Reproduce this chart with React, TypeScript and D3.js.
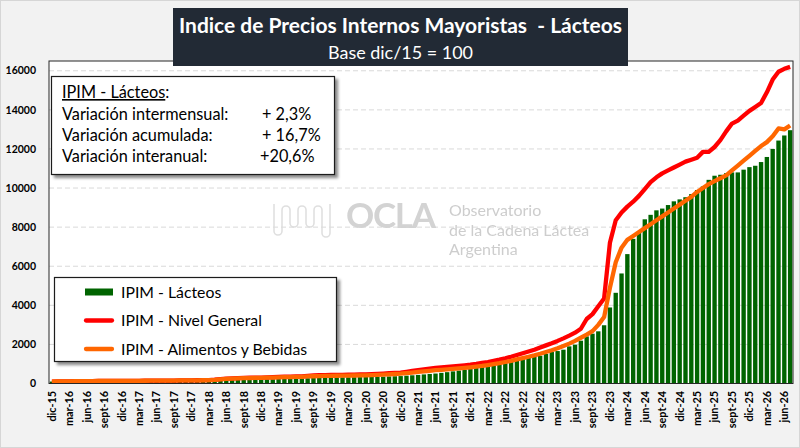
import React, { useEffect, useRef } from 'react';
import * as d3 from 'd3';

// month abbreviations used on the category axis
const MONTHS = ['ene', 'feb', 'mar', 'abr', 'may', 'jun', 'jul', 'ago', 'sept', 'oct', 'nov', 'dic'];

// dic-15 .. jul-26
const categories: string[] = ['dic-15'];
for (let y = 16; y <= 26; y++) {
  MONTHS.forEach((m, k) => {
    if (y === 26 && k > 6) return;
    categories.push(`${m}-${y}`);
  });
}

// IPIM - Lácteos (bars)
const lacteos = [
  100,
  102, 104, 107, 110, 113, 116, 118, 119, 120, 121, 122, 123, // 2016
  124, 126, 128, 130, 132, 134, 136, 138, 140, 142, 144, 146, // 2017
  148, 151, 154, 158, 164, 170, 176, 183, 190, 197, 203, 208, // 2018
  213, 220, 227, 235, 242, 248, 253, 270, 280, 290, 298, 305, // 2019
  310, 315, 318, 322, 326, 330, 336, 342, 350, 360, 370, 380, // 2020
  400, 420, 440, 465, 490, 510, 545, 580, 620, 660, 700, 740, // 2021
  790, 840, 890, 940, 990, 1040, 1100, 1190, 1250, 1310, 1360, 1420, // 2022
  1510, 1610, 1660, 1730, 1900, 1990, 2190, 2410, 2550, 2670, 2980, 3890, // 2023
  4640, 5630, 6620, 7400, 7750, 8400, 8630, 8860, 8950, 9130, 9320, 9420, // 2024
  9530, 9690, 9900, 10080, 10420, 10630, 10680, 10760, 10800, 10800, 10940, 11070, // 2025
  11140, 11330, 11590, 12000, 12430, 12690, 12960, // 2026
];

// IPIM - Nivel General (red line)
const nivelGeneral = [
  100,
  103, 107, 112, 117, 121, 124, 126, 127, 129, 130, 132, 133,
  134, 136, 138, 141, 143, 145, 147, 150, 152, 155, 158, 161,
  166, 170, 175, 192, 220, 245, 258, 272, 285, 295, 300, 302,
  312, 322, 335, 345, 355, 362, 368, 395, 410, 425, 432, 435,
  440, 445, 450, 455, 460, 468, 480, 495, 510, 525, 540, 560,
  600, 640, 680, 720, 760, 800, 825, 850, 875, 900, 930, 960,
  1000, 1050, 1100, 1160, 1220, 1290, 1370, 1460, 1550, 1640, 1730, 1840,
  1950, 2060, 2180, 2310, 2450, 2600, 2800, 3300, 3550, 3950, 4350, 7200,
  8350, 8750, 9050, 9300, 9600, 9950, 10300, 10550, 10750, 10900, 11050, 11200,
  11350, 11450, 11550, 11850, 11850, 12100, 12450, 12900, 13300, 13450, 13700, 13950,
  14150, 14350, 14900, 15550, 15950, 16100, 16200,
];

// IPIM - Alimentos y Bebidas (orange line)
const alimentos = [
  100,
  103, 107, 112, 117, 121, 124, 126, 127, 128, 130, 131, 133,
  134, 136, 138, 141, 143, 145, 147, 150, 152, 155, 158, 160,
  163, 166, 170, 185, 210, 235, 245, 258, 270, 280, 285, 288,
  296, 304, 314, 322, 330, 336, 342, 362, 372, 382, 388, 392,
  396, 400, 405, 410, 415, 420, 430, 442, 455, 470, 485, 500,
  530, 560, 590, 620, 650, 680, 700, 720, 745, 770, 800, 830,
  865, 900, 945, 990, 1040, 1100, 1160, 1230, 1300, 1370, 1440, 1520,
  1610, 1700, 1800, 1920, 2040, 2180, 2340, 2500, 2680, 3000, 3400, 4900,
  6200, 6950, 7350, 7550, 7750, 7950, 8150, 8350, 8550, 8750, 8950, 9150,
  9350, 9550, 9800, 10000, 10200, 10350, 10500, 10650, 10900, 11150, 11400, 11650,
  11900, 12150, 12350, 12650, 13050, 13000, 13200,
];

const yTicks = [0, 2000, 4000, 6000, 8000, 10000, 12000, 14000, 16000];

const statsLines = [
  ['Variación intermensual:', '+ 2,3%'],
  ['Variación acumulada:', '+ 16,7%'],
  ['Variación interanual:', '+20,6%'],
];

const legendItems = [
  { label: 'IPIM - Lácteos', color: '#006400', kind: 'bar' },
  { label: 'IPIM - Nivel General', color: '#ff0000', kind: 'line' },
  { label: 'IPIM - Alimentos y Bebidas', color: '#ff6600', kind: 'line' },
];

const FONT = "Lato, 'Open Sans', sans-serif";

export default function App() {
  const ref = useRef<SVGSVGElement>(null);

  useEffect(() => {
    if (!ref.current) return;
    const svg = d3.select(ref.current);
    svg.selectAll('*').remove();

    const W = 800, H = 448;
    const left = 49, right = 793, top = 61, bottom = 383.5;

    const defs = svg.append('defs');
    const f = defs.append('filter').attr('id', 'shadow').attr('x', '-10%').attr('y', '-10%').attr('width', '130%').attr('height', '140%');
    f.append('feDropShadow').attr('dx', 3).attr('dy', 3).attr('stdDeviation', 1.5)
      .attr('flood-color', '#000').attr('flood-opacity', 0.45);

    // background
    svg.append('rect').attr('x', 0.5).attr('y', 0.5).attr('width', W - 1).attr('height', H - 1)
      .attr('fill', '#f2f2f2').attr('stroke', '#d6d6d6');

    const x = d3.scaleBand<string>().domain(categories).range([left, right]).paddingInner(0.25).paddingOuter(0.12);
    const y = d3.scaleLinear().domain([0, 16500]).range([bottom, top]);

    // plot area
    svg.append('rect').attr('x', left).attr('y', top).attr('width', right - left).attr('height', bottom - top)
      .attr('fill', '#fff');

    // gridlines
    svg.append('g').selectAll('line').data(yTicks.filter(d => d > 0)).join('line')
      .attr('x1', left).attr('x2', right)
      .attr('y1', d => y(d)).attr('y2', d => y(d))
      .attr('stroke', '#d9d9d9').attr('stroke-width', 1).attr('stroke-dasharray', '5,3');

    // watermark
    const wm = svg.append('g').attr('opacity', 0.9);
    wm.append('path')
      .attr('d', 'M274,204 V231 a4,4 0 0 0 8,0 V210 a4,4 0 0 1 8,0 V223 a4,4 0 0 0 8,0 V210 a4,4 0 0 1 8,0 V223 a4,4 0 0 0 8,0 V210 a4,4 0 0 1 8,0 V233 a4,4 0 0 0 8,0 V204')
      .attr('fill', 'none').attr('stroke', '#dcdcdc').attr('stroke-width', 1.6);
    wm.append('text').attr('x', 346).attr('y', 228).attr('font-family', FONT).attr('font-weight', 700)
      .attr('font-size', 35).attr('fill', '#cfcfcf').attr('textLength', 90).text('OCLA');
    const wmLines = ['Observatorio', 'de la Cadena Láctea', 'Argentina'];
    wm.selectAll('text.sub').data(wmLines).join('text').attr('class', 'sub')
      .attr('x', 449).attr('y', (_, i) => 216 + i * 19.5)
      .attr('font-family', FONT).attr('font-size', 16).attr('fill', '#c8c8c8')
      .text(d => d);

    // bars
    svg.append('g').selectAll('rect').data(lacteos).join('rect')
      .attr('x', (_, i) => x(categories[i])!)
      .attr('width', x.bandwidth())
      .attr('y', d => y(d))
      .attr('height', d => bottom - y(d))
      .attr('fill', '#006400');

    const line = d3.line<number>()
      .x((_, i) => x(categories[i])! + x.bandwidth() / 2)
      .y(d => y(d));

    svg.append('path').datum(nivelGeneral).attr('d', line).attr('fill', 'none')
      .attr('stroke', '#ff0000').attr('stroke-width', 4.3).attr('stroke-linejoin', 'round');
    svg.append('path').datum(alimentos).attr('d', line).attr('fill', 'none')
      .attr('stroke', '#ff6600').attr('stroke-width', 4.3).attr('stroke-linejoin', 'round');

    // plot border
    svg.append('rect').attr('x', left).attr('y', top).attr('width', right - left).attr('height', bottom - top)
      .attr('fill', 'none').attr('stroke', '#262626').attr('stroke-width', 1);

    // y labels
    svg.append('g').selectAll('text').data(yTicks).join('text')
      .attr('x', 36).attr('y', d => y(d)).attr('dy', '0.35em')
      .attr('text-anchor', 'end').attr('font-family', FONT).attr('font-weight', 700)
      .attr('font-size', 10.5).attr('fill', '#000')
      .text(d => String(d));

    // x labels
    svg.append('g').selectAll('text').data(categories.filter((_, i) => i % 3 === 0)).join('text')
      .attr('transform', d => `translate(${x(d)! + x.bandwidth() / 2},${391}) rotate(-90)`)
      .attr('dy', '0.36em')
      .attr('text-anchor', 'end').attr('font-family', FONT).attr('font-weight', 700)
      .attr('font-size', 10.8).attr('fill', '#000')
      .text(d => d);

    // title box
    svg.append('rect').attr('x', 173).attr('y', 8).attr('width', 455).attr('height', 58).attr('fill', '#222a35');
    svg.append('text').attr('x', 400.5).attr('y', 33).attr('text-anchor', 'middle')
      .attr('font-family', FONT).attr('font-weight', 700).attr('font-size', 20.5).attr('fill', '#fff')
      .attr('textLength', 443).attr('lengthAdjust', 'spacingAndGlyphs')
      .attr('style', 'white-space: pre')
      .text('Indice de Precios Internos Mayoristas  - Lácteos');
    svg.append('text').attr('x', 400.5).attr('y', 58.5).attr('text-anchor', 'middle')
      .attr('font-family', FONT).attr('font-size', 17).attr('fill', '#fff')
      .attr('textLength', 145).attr('lengthAdjust', 'spacingAndGlyphs')
      .text('Base dic/15 = 100');

    // stats box
    svg.append('rect').attr('x', 51.5).attr('y', 76.5).attr('width', 283).attr('height', 98)
      .attr('fill', '#fff').attr('stroke', '#1a1a1a').attr('stroke-width', 1.2).attr('filter', 'url(#shadow)');
    const hdr = svg.append('text').attr('x', 62).attr('y', 98)
      .attr('font-family', FONT).attr('font-size', 16.3).attr('fill', '#000');
    hdr.append('tspan').attr('text-decoration', 'underline').text('IPIM - Lácteos');
    hdr.append('tspan').text(':');
    statsLines.forEach(([k, v], i) => {
      const yy = 119.5 + i * 21;
      svg.append('text').attr('x', 62).attr('y', yy).attr('font-family', FONT)
        .attr('font-size', 16.3).attr('fill', '#000').text(k);
      svg.append('text').attr('x', i === 2 ? 260 : 262).attr('y', yy).attr('font-family', FONT)
        .attr('font-size', 16.3).attr('fill', '#000').text(v);
    });

    // legend
    svg.append('rect').attr('x', 54.5).attr('y', 277.5).attr('width', 282).attr('height', 84)
      .attr('fill', '#fff').attr('stroke', '#1a1a1a').attr('stroke-width', 1.2).attr('filter', 'url(#shadow)');
    legendItems.forEach((it, i) => {
      const cy = 292 + i * 28.5;
      if (it.kind === 'bar') {
        svg.append('rect').attr('x', 85).attr('y', cy - 3.5).attr('width', 28).attr('height', 7).attr('fill', it.color);
      } else {
        svg.append('line').attr('x1', 86).attr('x2', 112).attr('y1', cy).attr('y2', cy)
          .attr('stroke', it.color).attr('stroke-width', 4.3).attr('stroke-linecap', 'round');
      }
      svg.append('text').attr('x', 121).attr('y', cy + 5.5).attr('font-family', FONT)
        .attr('font-size', 15.8).attr('fill', '#000').text(it.label);
    });
  }, []);

  return (
    <svg
      ref={ref}
      width={800}
      height={448}
      style={{ position: 'fixed', left: 0, top: 0, display: 'block' }}
    />
  );
}
